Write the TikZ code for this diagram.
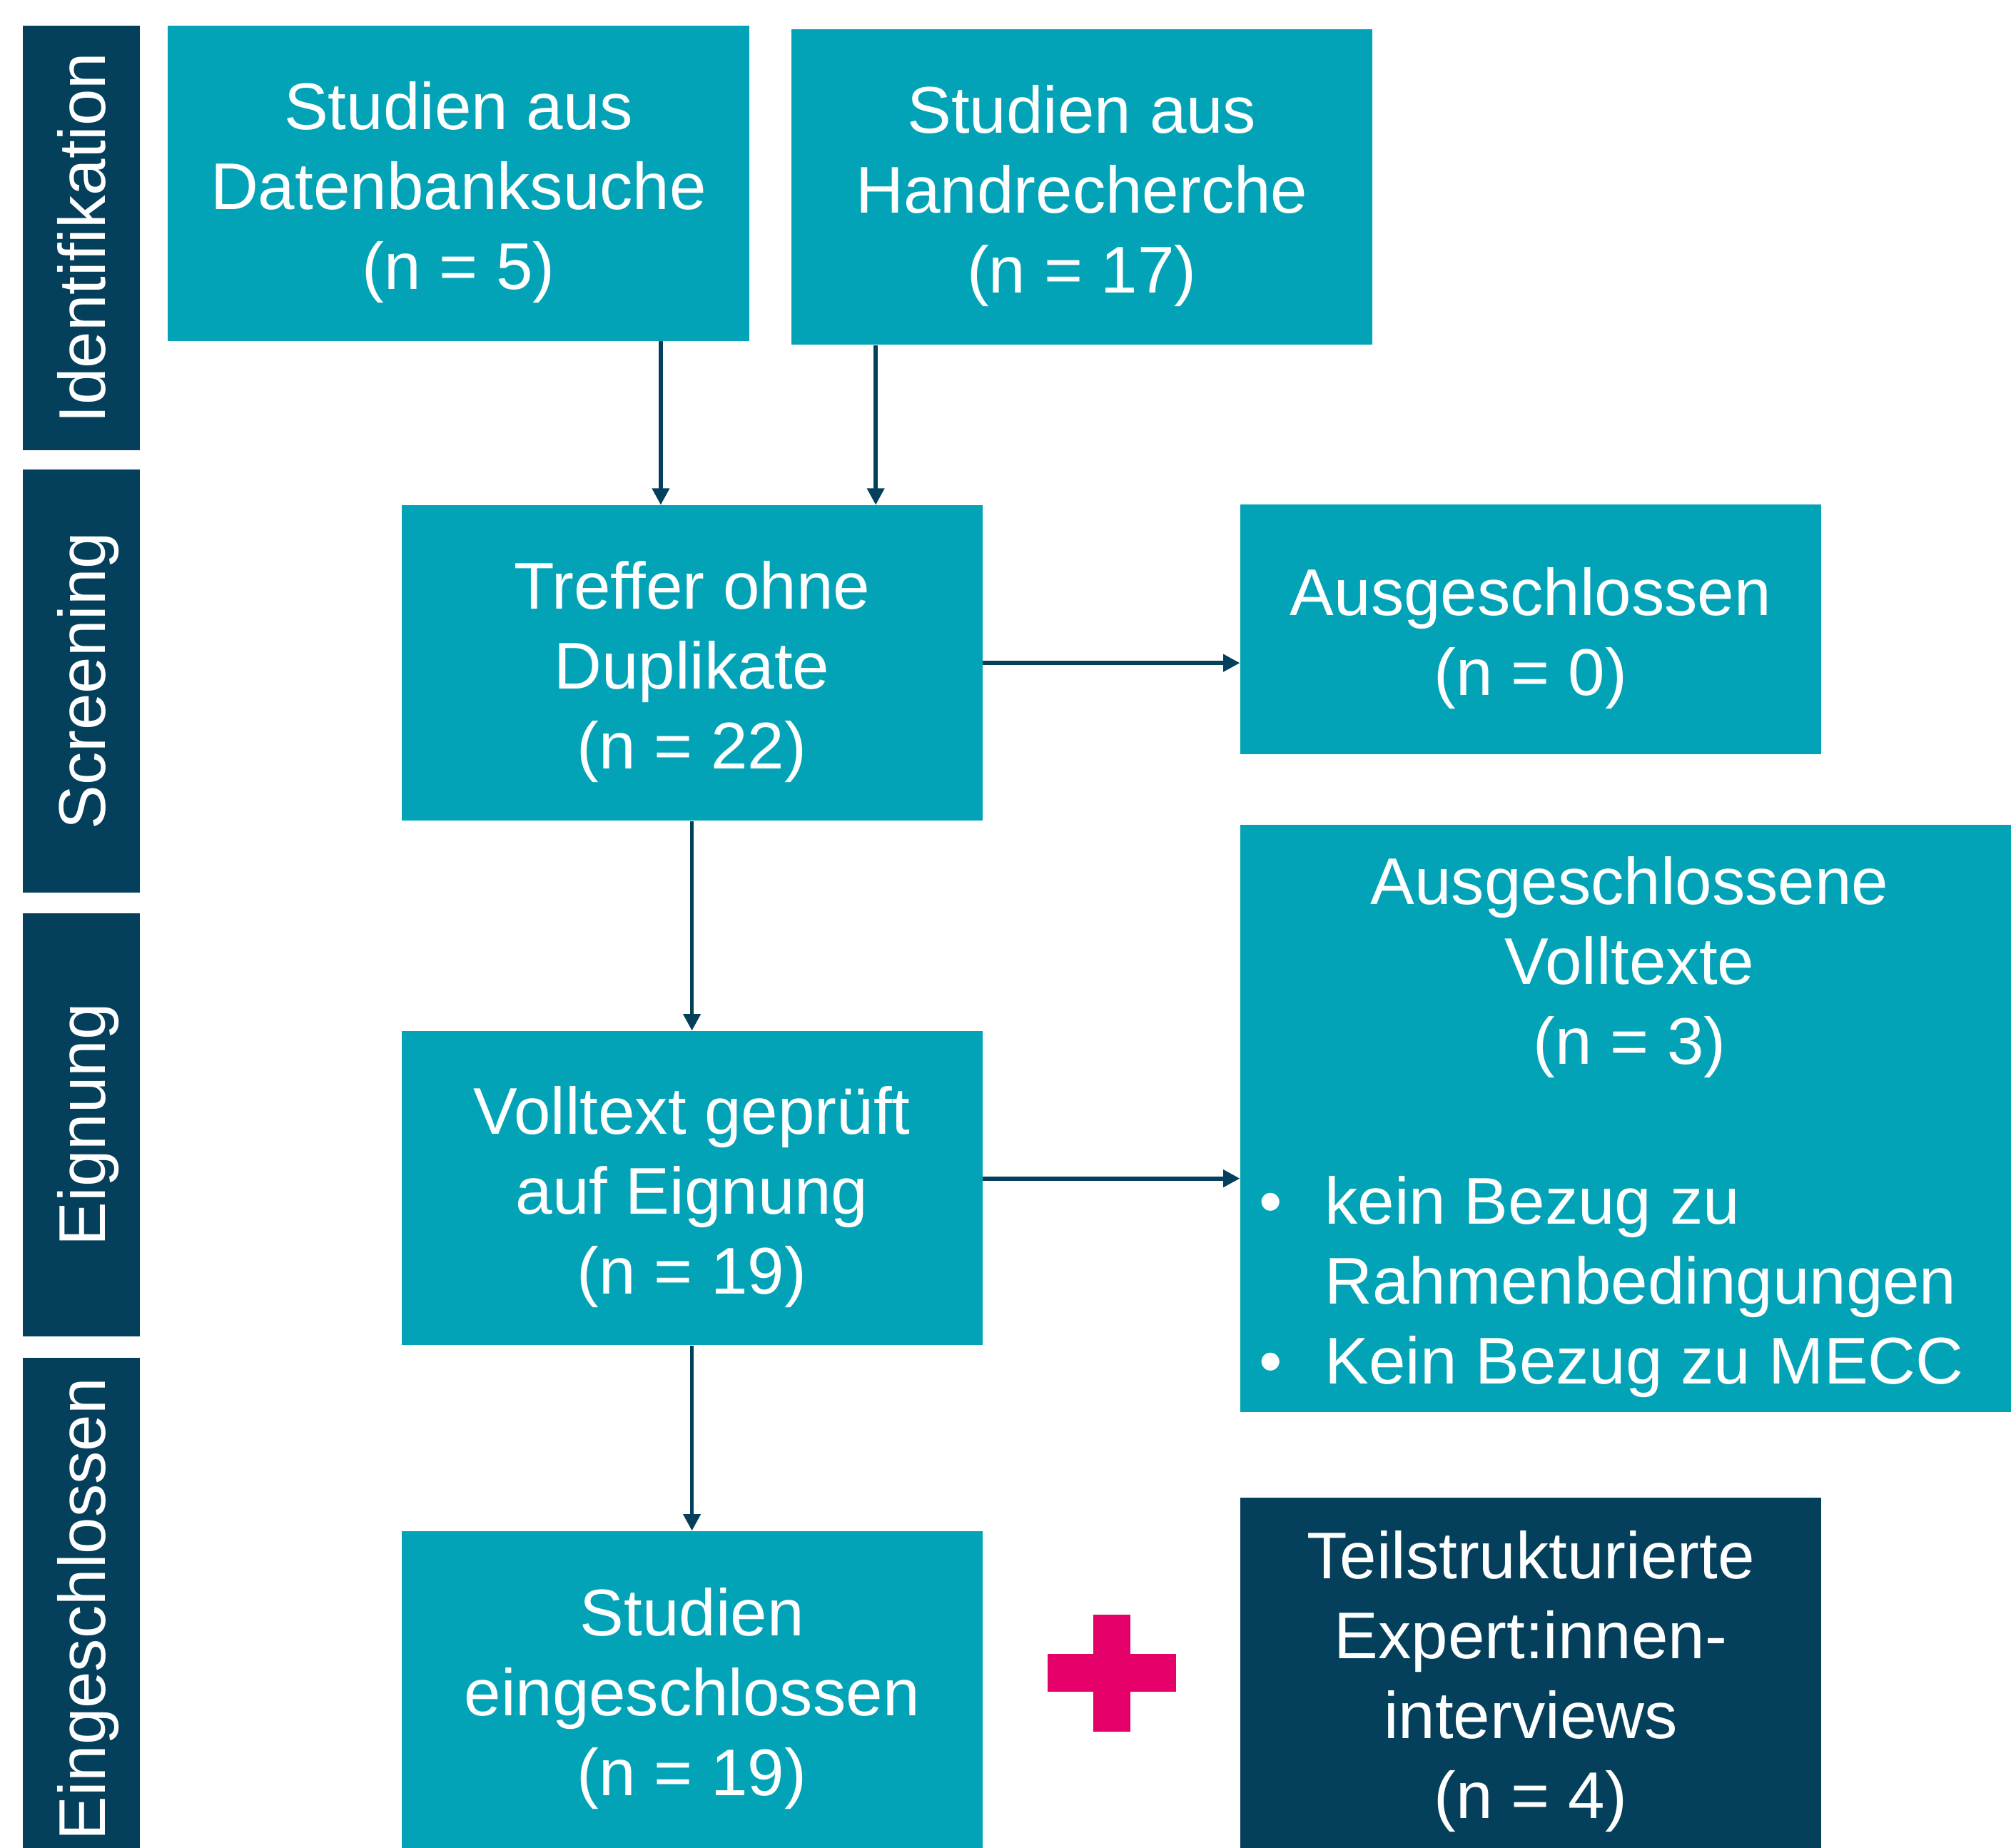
\documentclass[tikz,border=0pt]{standalone}
\usepackage{fontspec}
\setmainfont{Liberation Sans}
\usepackage{xcolor}
\usepackage{tikz}
\usetikzlibrary{arrows.meta,
                positioning}

\definecolor{mteal}{HTML}{03A3B7}
\definecolor{mnavy}{HTML}{04405C}
\definecolor{mpink}{HTML}{E40068}

\newcommand\boxfont{\fontsize{51.5}{62.3}\selectfont}
\newcommand\ts{\rule{0pt}{51pt}}
\newcommand\bitem[2]{\makebox[577pt][l]{\makebox[51pt][l]{#1}#2}}

\tikzset{
  box/.style={fill=mteal, text=white, font=\boxfont, align=center,
              inner sep=0pt, minimum width=453pt},
  phase/.style={fill=mnavy, text=white, font=\boxfont, rotate=90,
                minimum height=91pt, text height=37pt, text depth=0pt, inner sep=0pt},
  flow/.style={draw=mnavy, line width=3.2pt, -{Triangle[length=13pt,width=13pt]}}
}

\begin{document}
\begin{tikzpicture}[x=1pt, y=-1pt]
\useasboundingbox (0,0) rectangle (1568,1441);

% phases on the left
\foreach \t/\y/\l [count=\i] in {Identifikation/185.5/331, Screening/531/330,
                                 Eignung/877/330, Eingeschlossen/1255/392}
  \node[phase, minimum width=\l pt] (phase\i) at (63.5,\y) {\t};

% boxes
\node[box, minimum height=246pt] (datenbank) at (357.5,143) {\ts Studien aus\\Datenbanksuche\\(n = 5)};
\node[box, minimum height=246pt] (hand) at (843.5,146) {\ts Studien aus\\Handrecherche\\(n = 17)};
\node[box, minimum height=246pt] (treffer) at (539.5,517) {\ts Treffer ohne\\Duplikate\\(n = 22)};
\node[box, minimum height=194.5pt] (ausg) at (1193.5,490.75) {\ts Ausgeschlossen\\(n = 0)};
\node[box, minimum height=245pt] (volltext) at (539.5,926.5) {\ts Volltext geprüft\\auf Eignung\\(n = 19)};
\node[box, minimum width=607pt, minimum height=458pt] (ausvt) at (1270.5,872)
  {\ts Ausgeschlossene\\Volltexte\\(n = 3)\\\mbox{}\\
   \bitem{\textbullet}{kein Bezug zu}\\
   \bitem{}{Rahmenbedingungen}\\
   \bitem{\textbullet}{Kein Bezug zu MECC}};
\node[box, minimum height=247pt] (studien) at (539.5,1317.5) {\ts Studien\\eingeschlossen\\(n = 19)};
\node[box, fill=mnavy, minimum height=273pt] (experten) at (1193.5,1304.5)
  {\ts Teilstrukturierte\\Expert:innen-\\interviews\\(n = 4)};

% plus
\fill[mpink] (852.5,1259) rectangle (881.5,1350.6);
\fill[mpink] (817,1290) rectangle (917,1319);

% arrows
\coordinate (a1) at ([xshift=-69pt]datenbank.south east);
\coordinate (a2) at ([xshift=66pt]hand.south west);
\coordinate (a3) at ([yshift=7.5pt]volltext.east);
\draw[flow] (a1) -- (a1 |- treffer.north);
\draw[flow] (a2) -- (a2 |- treffer.north);
\draw[flow] (treffer.east) -- (treffer.east -| ausg.west);
\draw[flow] (treffer) -- (volltext);
\draw[flow] (a3) -- (a3 -| ausvt.west);
\draw[flow] (volltext) -- (studien);
\end{tikzpicture}
\end{document}
